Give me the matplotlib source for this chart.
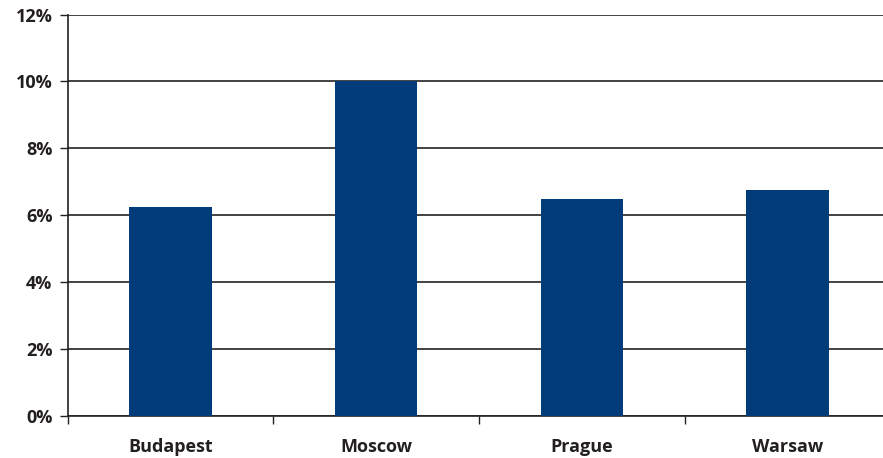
import matplotlib
matplotlib.use("Agg")
import matplotlib.pyplot as plt
from matplotlib.ticker import FixedLocator, NullFormatter, FuncFormatter

cities = ["Budapest", "Moscow", "Prague", "Warsaw"]
rates = [6.25, 10.0, 6.5, 6.75]
y_ticks = [0, 2, 4, 6, 8, 10, 12]

plt.rcParams["font.family"] = ["Open Sans", "DejaVu Sans"]

fig = plt.figure(figsize=(8.83, 4.58), dpi=100)
ax = fig.add_axes([0.0767, 0.0917, 0.9317, 0.8766])

x = list(range(len(cities)))
ax.bar(x, rates, width=0.40, color="#003b7a", zorder=3)

ax.set_xlim(-0.5, len(cities) - 0.5)
ax.set_ylim(0, 12)
ax.set_yticks(y_ticks)
ax.yaxis.set_major_formatter(FuncFormatter(lambda v, p: f"{v:.0f}%"))
ax.grid(axis="y", color="#222222", linewidth=1.2, zorder=1)

# category labels centred under bars, separator ticks between categories
ax.set_xticks(x)
ax.set_xticklabels(cities, fontsize=13, fontweight="bold", color="#231f20")
ax.tick_params(axis="x", which="major", length=0, pad=16)
ax.xaxis.set_minor_locator(FixedLocator([i - 0.5 for i in range(len(cities) + 1)]))
ax.xaxis.set_minor_formatter(NullFormatter())
ax.tick_params(axis="x", which="minor", length=6, width=1, color="#222222")

ax.tick_params(axis="y", length=6, width=1, color="#222222", pad=5,
               labelsize=13, labelcolor="#231f20")
for lbl in ax.get_yticklabels():
    lbl.set_fontweight("bold")

for side in ["top", "right"]:
    ax.spines[side].set_visible(False)
for side in ["left", "bottom"]:
    ax.spines[side].set_color("#222222")
    ax.spines[side].set_linewidth(1.2)

fig.savefig("out.png", dpi=100)
